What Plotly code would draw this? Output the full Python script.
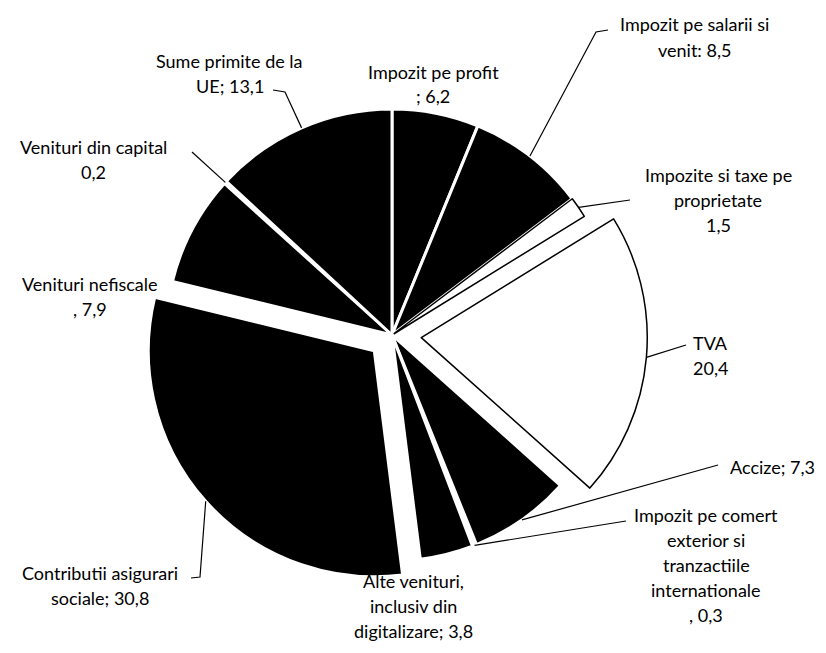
import numpy as np
import plotly.graph_objects as go

# structura veniturilor (%)
labels = ["Impozit pe profit", "Impozit pe salarii si venit", "Impozite si taxe pe proprietate",
          "TVA", "Accize", "Impozit pe comert exterior si tranzactiile internationale",
          "Alte venituri, inclusiv din digitalizare", "Contributii asigurari sociale",
          "Venituri nefiscale", "Venituri din capital", "Sume primite de la UE"]
values = [6.2, 8.5, 1.5, 20.4, 7.3, 0.3, 3.8, 30.8, 7.9, 0.2, 13.1]
label_lines = [
    ["Impozit pe profit", "; 6,2"],
    ["Impozit pe salarii si", "venit: 8,5"],
    ["Impozite si taxe pe", "proprietate", "1,5"],
    ["TVA", "20,4"],
    ["Accize; 7,3"],
    ["Impozit pe comert", "exterior si", "tranzactiile", "internationale", ", 0,3"],
    ["Alte venituri,", "inclusiv din", "digitalizare; 3,8"],
    ["Contributii asigurari", "sociale; 30,8"],
    ["Venituri nefiscale", ", 7,9"],
    ["Venituri din capital", "0,2"],
    ["Sume primite de la", "UE; 13,1"],
]

fills = ["black", "black", "white", "white", "black", "white", "black", "black", "black", "white", "black"]
edges = ["white", "white", "black", "black", "white", "white", "white", "white", "white", "white", "white"]
edge_w = [3, 3, 1.5, 1.5, 3, 1, 3, 3, 3, 1, 3]
pulls = [0, 0, 0, 0.13, 0, 0, 0, 0.105, 0, 0, 0]

# the page body has an 8px margin, so work in screen pixels and shift
OFF = 8
W, H = 826, 653
FW, FH = W - OFF, H - OFF

# wanted pie centre / radius on screen, domain derived from it
cx, cy, r = 392, 335, 226
half = r * (1 + max(pulls))
dom_x = [(cx - half - OFF) / FW, (cx + half - OFF) / FW]
dom_y = [1 - (cy + half - OFF) / FH, 1 - (cy - half - OFF) / FH]

vals = np.array(values)
mid = (np.cumsum(vals) - vals / 2) / vals.sum() * 2 * np.pi


def px(x, y):
    return (x - OFF) / FW, 1 - (y - OFF) / FH


def edge_point(i):
    d = r * (1 + pulls[i])
    return cx + d * np.sin(mid[i]), cy - d * np.cos(mid[i])


# label block centres and leader elbows (screen pixels)
label_pos = [(433, 84), (694, 37), (718, 200), (710, 355), (772, 467), (706, 565),
             (413, 606), (100, 585), (90, 296), (93, 160), (230, 73)]
leaders = {
    1: [(596, 32), (608, 30)],
    2: [(630, 200)],
    3: [(686, 345)],
    4: [(718, 465)],
    5: [(626, 521)],
    7: [(200, 577), (191, 578)],
    9: [(192, 152)],
    10: [(285, 92), (273, 90)],
}

fig = go.Figure(go.Pie(
    labels=labels, values=values, sort=False, direction="clockwise", rotation=0,
    pull=pulls, textinfo="none", hoverinfo="label+value",
    marker=dict(colors=fills, line=dict(color=edges, width=edge_w)),
    domain=dict(x=dom_x, y=dom_y),
))

for i, pts in leaders.items():
    path_pts = [edge_point(i)] + pts
    p = "M " + " L ".join("{:.5f},{:.5f}".format(*px(a, b)) for a, b in path_pts)
    fig.add_shape(type="path", path=p, xref="paper", yref="paper",
                  line=dict(color="black", width=1.2))

spacing = 25
for lines, (lx, ly) in zip(label_lines, label_pos):
    n = len(lines)
    for k, t in enumerate(lines):
        yy = ly + (k - (n - 1) / 2) * spacing
        ax, ay = px(lx, yy)
        fig.add_annotation(x=ax, y=ay, xref="paper", yref="paper", text=t, showarrow=False,
                           xanchor="center", yanchor="middle",
                           font=dict(family="Lato", size=18, color="black"))

fig.update_layout(width=FW, height=FH, margin=dict(l=0, r=0, t=0, b=0),
                  showlegend=False, paper_bgcolor="white", plot_bgcolor="white")
fig.write_html("out.html")
